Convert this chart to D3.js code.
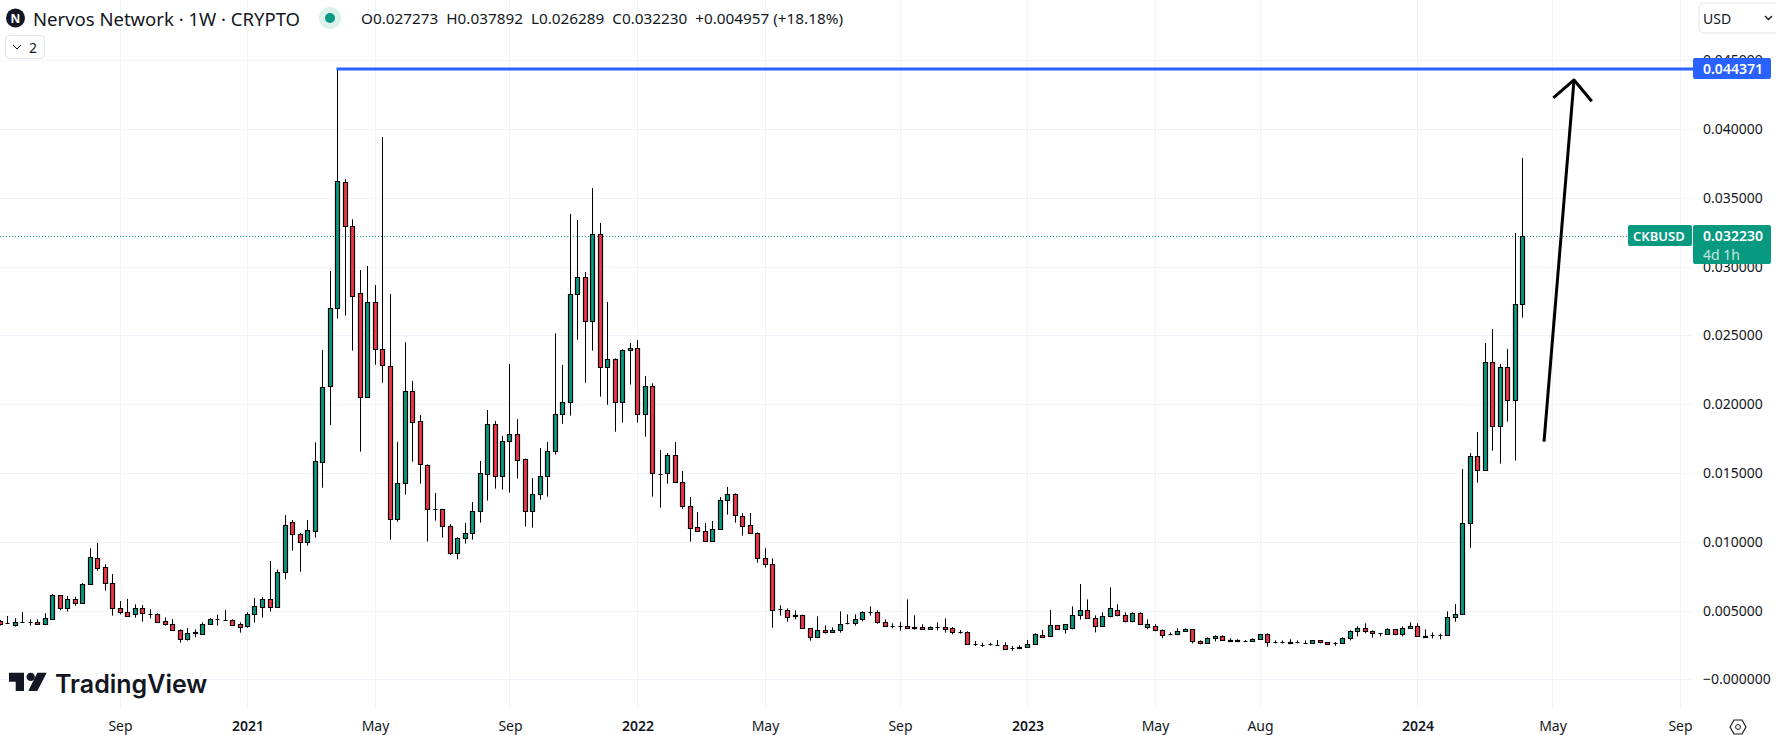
<!DOCTYPE html>
<html>
<head>
<meta charset="utf-8">
<script src="https://cdn.jsdelivr.net/npm/d3@7/dist/d3.min.js"></script>
<style>
html,body{margin:0;padding:0;background:#fff;overflow:hidden}
svg{display:block}
text{font-family:"Noto Sans",sans-serif}
</style>
</head>
<body>
<svg id="chart" width="1776" height="735"></svg>
<script>
// All prices in thousandths of a US dollar, one entry per weekly candle.
const opens=[
4.24,4.06,3.97,4.13,4.18,4.14,4.00,4.36,6.10,5.16,
5.81,5.52,6.90,8.79,8.14,6.98,5.16,4.87,4.72,5.16,
4.75,4.72,4.21,4.00,3.56,2.95,3.40,3.27,4.00,4.35,
4.28,4.29,4.00,3.90,4.72,5.28,5.81,5.28,7.78,11.46,
10.54,10.01,10.80,15.82,21.35,26.97,36.13,32.93,28.06,20.50,
27.40,23.99,22.75,11.63,14.25,20.93,18.75,15.55,12.35,12.36,
11.12,9.16,10.25,10.61,12.21,14.90,18.53,14.75,17.30,17.81,
15.99,12.21,13.45,14.75,16.57,19.26,20.13,27.99,29.22,26.02,
32.35,22.68,23.26,20.13,23.91,24.06,19.26,21.30,14.89,14.97,
16.28,14.32,12.57,11.05,10.76,10.03,10.90,13.01,13.45,11.85,
11.19,10.61,8.79,8.36,5.08,5.01,4.65,4.65,3.71,3.05,
3.56,3.41,3.56,4.06,4.07,4.36,4.86,4.87,4.14,3.84,
3.84,3.85,3.78,3.78,3.63,3.77,3.78,3.71,3.43,3.41,
2.53,2.46,2.53,2.51,2.47,2.24,2.31,2.32,2.54,3.20,
3.12,3.92,3.63,3.71,4.65,5.01,4.43,3.85,4.58,5.01,
4.65,4.21,4.80,3.78,3.85,3.56,3.31,3.27,3.49,3.63,
2.76,2.61,2.98,3.12,2.82,2.82,2.80,2.76,2.91,3.27,
2.70,2.70,2.71,2.70,2.63,2.61,2.83,2.69,2.63,2.61,
2.98,3.49,3.71,3.49,3.33,3.27,3.63,3.27,3.71,3.85,
3.11,3.19,3.21,3.20,4.50,4.72,11.34,16.21,15.19,23.04,
18.39,22.68,20.28,27.273];
const highs=[
4.31,4.60,4.43,4.89,4.36,4.36,4.80,6.20,6.12,6.06,
6.01,7.00,9.52,9.91,8.36,7.65,5.69,5.84,5.45,5.40,
5.09,4.80,4.50,4.38,3.63,3.73,3.63,4.14,4.43,4.70,
5.04,4.36,4.14,4.87,5.91,5.98,8.60,7.99,11.94,11.58,
10.62,11.58,17.23,23.94,29.68,44.371,36.35,33.44,29.75,30.05,
28.66,39.42,28.01,17.25,24.50,21.69,19.21,15.63,13.54,12.40,
11.29,10.32,11.36,12.89,15.87,19.58,18.78,17.69,22.92,18.92,
16.05,14.63,16.81,17.25,25.15,22.85,33.83,33.39,29.61,35.72,
33.17,27.43,23.33,23.99,24.45,24.67,22.05,21.52,16.67,16.45,
17.25,15.14,13.25,12.16,11.36,11.51,13.25,13.98,13.52,12.07,
12.09,10.68,9.52,8.79,5.38,5.16,5.01,4.70,3.74,4.58,
3.92,3.78,4.94,4.72,4.72,4.94,5.30,5.01,4.36,4.07,
4.17,5.81,4.65,4.00,3.85,4.14,4.43,3.80,3.58,3.49,
2.78,2.66,2.66,2.86,2.69,2.42,2.47,2.86,3.34,3.58,
5.04,3.94,4.02,5.30,6.93,5.81,4.65,4.87,6.69,5.45,
4.87,4.87,4.87,4.36,4.00,3.63,3.41,3.71,3.71,3.66,
2.83,3.05,3.20,3.20,2.98,2.91,2.86,2.98,3.30,3.34,
2.83,2.83,2.91,2.83,2.83,2.86,2.85,2.71,2.71,3.05,
3.56,3.85,4.07,3.56,3.36,3.71,3.65,3.85,4.14,4.07,
3.63,3.41,3.32,4.94,5.47,15.29,16.45,17.98,24.45,25.47,
22.92,24.01,32.45,37.892];
const lows=[
3.92,4.04,3.83,4.12,3.90,3.97,4.00,4.36,5.01,4.92,
5.35,5.50,6.90,7.90,6.44,4.63,4.72,4.60,4.48,4.19,
4.43,4.17,3.90,3.54,2.66,2.81,3.05,3.27,3.98,3.90,
4.27,3.90,3.39,3.75,4.12,4.48,4.92,5.26,7.27,9.35,
7.82,9.71,10.30,13.93,18.49,26.22,26.44,23.89,16.55,20.45,
22.87,21.56,10.15,11.46,13.42,15.82,14.22,10.01,11.53,10.30,
9.04,8.72,9.86,10.15,11.39,12.99,13.86,13.79,13.57,14.59,
11.10,11.02,13.06,13.28,16.33,18.58,19.17,24.69,21.56,23.89,
20.55,19.96,18.00,18.66,21.42,18.66,17.64,13.28,12.48,14.22,
14.27,12.40,10.01,10.72,9.99,9.99,10.88,11.97,11.39,10.44,
10.58,8.48,8.12,3.75,4.63,4.19,4.36,3.69,2.81,3.03,
3.32,3.39,3.39,4.00,3.90,4.21,4.63,4.04,3.83,3.71,
3.54,3.68,3.61,3.61,3.61,3.56,3.39,3.27,3.32,2.52,
2.42,2.37,2.44,2.42,2.15,2.08,2.30,2.30,2.52,3.00,
3.10,3.61,3.32,3.63,4.34,4.41,3.41,3.83,4.50,4.58,
4.14,4.14,3.97,3.63,3.49,2.98,3.20,3.20,3.47,2.61,
2.54,2.59,2.76,2.81,2.76,2.76,2.73,2.73,2.88,2.37,
2.61,2.61,2.59,2.61,2.62,2.59,2.61,2.52,2.44,2.59,
2.83,3.12,3.34,3.03,3.12,3.25,3.20,3.12,3.69,3.10,
3.05,2.98,2.91,3.18,4.19,4.70,9.57,14.29,15.17,16.62,
15.68,18.73,15.90,26.289];
const closes=[
4.00,4.07,4.14,4.14,4.19,4.00,4.43,6.10,5.16,5.81,
5.57,6.90,8.87,8.07,6.98,5.16,4.87,4.63,5.16,4.80,
4.76,4.19,4.00,3.56,2.91,3.34,3.41,4.00,4.36,4.36,
4.29,3.97,3.83,4.72,5.30,5.81,5.28,7.78,11.19,10.54,
10.01,10.83,15.85,21.23,26.97,36.20,32.93,27.89,20.50,27.40,
23.99,22.82,11.63,14.25,20.93,18.68,15.63,12.36,12.36,11.12,
9.16,10.25,10.61,12.21,14.97,18.53,14.75,17.30,17.81,15.92,
12.21,13.45,14.75,16.57,19.26,20.13,27.99,29.22,26.02,32.35,
22.68,23.26,20.13,23.91,24.06,19.26,21.30,14.97,14.90,16.28,
14.32,12.57,11.02,10.76,10.03,10.90,13.01,13.45,11.92,11.12,
10.61,8.79,8.36,5.06,5.09,4.50,4.58,3.71,3.05,3.56,
3.41,3.56,4.00,4.07,4.36,4.87,4.87,4.14,3.85,3.85,
3.85,3.71,3.71,3.63,3.78,3.78,3.63,3.41,3.44,2.54,
2.54,2.47,2.54,2.52,2.18,2.25,2.32,2.54,3.27,3.10,
3.92,3.63,4.00,4.65,5.01,4.43,3.85,4.58,5.16,4.65,
4.21,4.80,4.00,4.00,3.56,3.20,3.32,3.49,3.63,2.76,
2.61,2.98,3.12,2.83,2.83,2.83,2.81,2.91,3.27,2.69,
2.71,2.71,2.61,2.71,2.64,2.83,2.69,2.54,2.64,2.98,
3.49,3.71,3.49,3.34,3.34,3.63,3.27,3.71,3.85,3.12,
3.12,3.20,3.22,4.50,4.72,11.34,16.21,15.19,23.04,18.39,
22.68,20.28,27.273,32.230];

// Value axis ticks (thousandths of USD)
const priceTicks=[0,5,10,15,20,25,30,35,40,45];
// Time axis: candle position and label
const timeTickCandles=[16,33,50,68,85,102,120,137,154,168,189,207,224];
const timeTickLabels=["Sep","2021","May","Sep","2022","May","Sep","2023","May","Aug","2024","May","Sep"];

// Levels and drawn annotations, in (candle, price) units
const lineStartCandle=45;
const highLevel=44.371;
const lastPrice=32.230;
const arrowShaft=[[205.87,17.27],[209.87,43.57]];
const arrowHead=[[207.11,42.26],[209.87,43.57],[212.23,42.02]];

// Header texts
const titleText="Nervos Network · 1W · CRYPTO";
const ohlcPairs=[["O","0.027273"],["H","0.037892"],["L","0.026289"],["C","0.032230"]];
const changeText="+0.004957 (+18.18%)";

const ink="#131722", up="#089981", down="#f23645", grid="#f0f3fa", blue="#2962ff";
const paneRight=1693, paneBottom=709;

const svg=d3.select("#chart");
const x=d3.scaleLinear().domain([0,224]).range([0,1680]);
const y=d3.scaleLinear().domain([0,45]).range([679.3,60.3]);
const px=v=>Math.floor(x(v))+0.5;
const py=v=>Math.round(y(v))+0.5;

// Grid
svg.append("g").selectAll("line").data(priceTicks).join("line")
  .attr("x1",0).attr("x2",paneRight).attr("y1",d=>py(d)).attr("y2",d=>py(d))
  .attr("stroke",grid);
svg.append("g").selectAll("line").data(timeTickCandles).join("line")
  .attr("x1",d=>px(d)).attr("x2",d=>px(d)).attr("y1",0).attr("y2",paneBottom)
  .attr("stroke",grid);

// Axes
const yAxis=d3.axisRight(y).tickValues(priceTicks).tickSize(0).tickPadding(10)
  .tickFormat(d=>d===0?"\u22120.000000":(d/1000).toFixed(6));
const gy=svg.append("g").attr("transform",`translate(${paneRight},0)`).call(yAxis);
gy.select(".domain").remove();
gy.selectAll("text").attr("font-size",14).attr("fill",ink).style("font-family",'"Noto Sans",sans-serif');

const xAxis=d3.axisBottom(x).tickValues(timeTickCandles).tickSize(0).tickPadding(0)
  .tickFormat((d,i)=>timeTickLabels[i]);
const gx=svg.append("g").attr("transform","translate(0,721)").call(xAxis);
gx.select(".domain").remove();
gx.selectAll("text").attr("font-size",14).attr("fill",ink)
  .attr("font-weight",(d,i)=>/^\d/.test(timeTickLabels[i])?600:400)
  .style("font-family",'"Noto Sans",sans-serif');

// Last price dotted line
svg.append("line").attr("x1",0).attr("x2",1628).attr("y1",py(lastPrice)).attr("y2",py(lastPrice))
  .attr("stroke",up).attr("stroke-dasharray","1 2");

// Candles
const candles=d3.range(opens.length);
const gc=svg.append("g");
gc.selectAll("line").data(candles).join("line")
  .attr("x1",px).attr("x2",px).attr("y1",i=>y(highs[i])).attr("y2",i=>y(lows[i]))
  .attr("stroke","#000").attr("stroke-width",1);
gc.selectAll("path").data(candles).join("path")
  .attr("d",i=>{
    const top=py(Math.max(opens[i],closes[i])), bot=py(Math.min(opens[i],closes[i]));
    return `M${px(i)-2} ${top}H${px(i)+2}V${bot}H${px(i)-2}Z`;
  })
  .attr("fill",i=>closes[i]>=opens[i]?up:down)
  .attr("stroke","#000").attr("stroke-width",1.2);

// Horizontal level
svg.append("line").attr("x1",x(lineStartCandle)-1).attr("x2",paneRight)
  .attr("y1",y(highLevel)).attr("y2",y(highLevel))
  .attr("stroke",blue).attr("stroke-width",3);

// Arrow
const arrowLine=d3.line().x(d=>x(d[0])).y(d=>y(d[1]));
svg.append("path").attr("d",arrowLine(arrowShaft)).attr("fill","none").attr("stroke","#000")
  .attr("stroke-width",3);
svg.append("path").attr("d",arrowLine(arrowHead)).attr("fill","none").attr("stroke","#000")
  .attr("stroke-width",3).attr("stroke-linejoin","round");

// Price labels
function tag(xp,yp,w,h,fill){
  return svg.append("rect").attr("x",xp).attr("y",yp).attr("width",w).attr("height",h)
    .attr("rx",2).attr("fill",fill);
}
function label(t,xp,yp,o={}){
  return svg.append("text").attr("x",xp).attr("y",yp).text(t)
    .attr("font-size",o.size||14).attr("fill",o.fill||"#fff")
    .attr("font-weight",o.weight||400).attr("text-anchor",o.anchor||"start")
    .attr("opacity",o.opacity===undefined?1:o.opacity)
    .attr("dominant-baseline",o.base||"central");
}
tag(paneRight,58,78,21,blue);
label((highLevel/1000).toFixed(6),1703,y(highLevel),{weight:600});
tag(1628,225,64,21,up);
label("CKBUSD",1633,235.5,{weight:600,size:13});
tag(paneRight,225,78,39,up);
label((lastPrice/1000).toFixed(6),1703,235.5,{weight:600});
label("4d 1h",1703,254,{opacity:0.75});

// Header
svg.append("circle").attr("cx",15.5).attr("cy",18).attr("r",9.5).attr("fill",ink);
label("N",15.5,18.5,{weight:700,size:12,anchor:"middle"});
label(titleText,33,18,{fill:ink,size:18.5});
svg.append("circle").attr("cx",330).attr("cy",18).attr("r",11).attr("fill","#daf1ec");
svg.append("circle").attr("cx",330).attr("cy",18).attr("r",5).attr("fill",up);
const ohlc=svg.append("text").attr("x",361).attr("y",18).attr("dominant-baseline","central")
  .attr("font-size",15.3).attr("fill",ink);
ohlcPairs.forEach(p=>{
  ohlc.append("tspan").text(p[0]+p[1]+"  ");
});
ohlc.append("tspan").text(changeText);
ohlc.attr("xml:space","preserve").style("white-space","pre");

// Collapse button
svg.append("rect").attr("x",5.5).attr("y",35.5).attr("width",39).attr("height",23).attr("rx",4)
  .attr("fill","#fff").attr("stroke","#e0e3eb");
svg.append("path").attr("d","M13 45l4 4l4-4").attr("fill","none").attr("stroke",ink);
label("2",29,47,{fill:ink,size:14});

// Currency selector
svg.append("rect").attr("x",1699).attr("y",3).attr("width",90).attr("height",30).attr("rx",5)
  .attr("fill","#fff").attr("stroke","#e0e3eb");
label("USD",1703,18,{fill:ink,size:14});
svg.append("path").attr("d","M1765 16l3.5 3.5l3.5-3.5").attr("fill","none").attr("stroke",ink).attr("stroke-width",1.4);

// Settings icon
svg.append("path").attr("d","M1730 727l4-7h8l4 7l-4 7h-8z").attr("fill","none").attr("stroke",ink).attr("stroke-width",1.2);
svg.append("circle").attr("cx",1738).attr("cy",727).attr("r",2.4).attr("fill","none").attr("stroke",ink);

// Watermark
svg.append("path").attr("d","M9 672.7H24V691H15.7V681.7H9Z").attr("fill",ink);
svg.append("circle").attr("cx",30.7).attr("cy",676.9).attr("r",4.2).attr("fill",ink);
svg.append("path").attr("d","M37.3 672.7H46.7L37.3 691H28.3Z").attr("fill",ink);
label("TradingView",55,684,{fill:ink,size:25,weight:600}).style("font-family","Inter,sans-serif");
</script>
</body>
</html>
